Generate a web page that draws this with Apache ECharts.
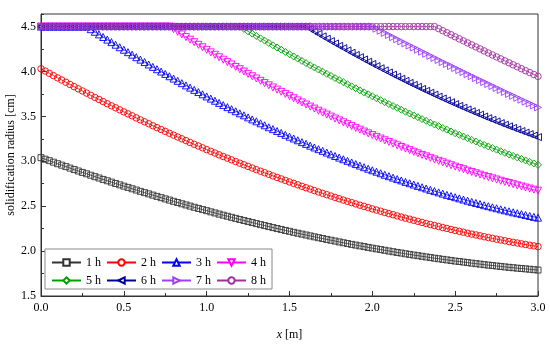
<!DOCTYPE html>
<html>
<head>
<meta charset="utf-8">
<script src="https://cdn.jsdelivr.net/npm/echarts@6/dist/echarts.min.js"></script>
<style>html,body{margin:0;padding:0;background:#fff}#c{width:550px;height:347px}</style>
</head>
<body>
<div id="c"></div>
<script>
const xs = [0,
0.025,0.05,0.075,0.1, 0.125,0.15,0.175,0.2, 0.225,0.25,0.275,0.3, 0.325,0.35,0.375,0.4, 0.425,0.45,0.475,0.5,
0.525,0.55,0.575,0.6, 0.625,0.65,0.675,0.7, 0.725,0.75,0.775,0.8, 0.825,0.85,0.875,0.9, 0.925,0.95,0.975,1.0,
1.025,1.05,1.075,1.1, 1.125,1.15,1.175,1.2, 1.225,1.25,1.275,1.3, 1.325,1.35,1.375,1.4, 1.425,1.45,1.475,1.5,
1.525,1.55,1.575,1.6, 1.625,1.65,1.675,1.7, 1.725,1.75,1.775,1.8, 1.825,1.85,1.875,1.9, 1.925,1.95,1.975,2.0,
2.025,2.05,2.075,2.1, 2.125,2.15,2.175,2.2, 2.225,2.25,2.275,2.3, 2.325,2.35,2.375,2.4, 2.425,2.45,2.475,2.5,
2.525,2.55,2.575,2.6, 2.625,2.65,2.675,2.7, 2.725,2.75,2.775,2.8, 2.825,2.85,2.875,2.9, 2.925,2.95,2.975,3.0];

const r1h = [3.040,
3.023,3.007,2.990,2.973, 2.957,2.941,2.924,2.908, 2.892,2.876,2.861,2.845, 2.829,2.814,2.798,2.783, 2.768,2.753,2.738,2.723,
2.709,2.694,2.680,2.665, 2.651,2.637,2.623,2.609, 2.595,2.581,2.568,2.554, 2.541,2.527,2.514,2.501, 2.488,2.475,2.462,2.450,
2.437,2.425,2.412,2.400, 2.388,2.376,2.364,2.352, 2.341,2.329,2.318,2.306, 2.295,2.284,2.273,2.262, 2.251,2.241,2.230,2.220,
2.209,2.199,2.189,2.179, 2.169,2.159,2.149,2.140, 2.130,2.121,2.112,2.102, 2.093,2.084,2.075,2.067, 2.058,2.050,2.041,2.033,
2.025,2.017,2.009,2.001, 1.993,1.985,1.978,1.970, 1.963,1.956,1.949,1.942, 1.935,1.928,1.921,1.915, 1.908,1.902,1.896,1.889,
1.884,1.878,1.872,1.866, 1.860,1.855,1.849,1.844, 1.839,1.834,1.829,1.824, 1.819,1.815,1.810,1.806, 1.802,1.798,1.793,1.789];

const r2h = [4.030,
4.005,3.980,3.954,3.929, 3.905,3.880,3.855,3.831, 3.807,3.783,3.759,3.735, 3.711,3.688,3.665,3.641, 3.618,3.596,3.573,3.550,
3.528,3.506,3.483,3.461, 3.440,3.418,3.396,3.375, 3.354,3.333,3.312,3.291, 3.270,3.250,3.230,3.209, 3.189,3.170,3.150,3.130,
3.111,3.092,3.072,3.053, 3.035,3.016,2.997,2.979, 2.961,2.943,2.925,2.907, 2.889,2.872,2.855,2.837, 2.820,2.804,2.787,2.770,
2.754,2.738,2.721,2.705, 2.690,2.674,2.658,2.643, 2.628,2.613,2.598,2.583, 2.568,2.554,2.540,2.525, 2.511,2.498,2.484,2.470,
2.457,2.444,2.430,2.417, 2.405,2.392,2.379,2.367, 2.355,2.343,2.331,2.319, 2.307,2.296,2.285,2.273, 2.262,2.252,2.241,2.230,
2.220,2.210,2.199,2.189, 2.180,2.170,2.160,2.151, 2.142,2.133,2.124,2.115, 2.106,2.098,2.090,2.081, 2.073,2.065,2.058,2.050];

const r3h = [
4.5,4.5,4.5,4.5,4.5,4.5,4.5,4.5,4.5,4.5,
4.5,4.5,
4.471,4.442,4.413,4.384, 4.355,4.327,4.298,4.270, 4.242,4.215,4.187,4.159, 4.132,4.105,4.078,4.051, 4.025,3.999,3.973,3.947,
3.921,3.896,3.870,3.845, 3.820,3.795,3.771,3.746, 3.722,3.698,3.674,3.650, 3.626,3.603,3.580,3.557, 3.534,3.512,3.489,3.466,
3.445,3.423,3.401,3.379, 3.358,3.337,3.316,3.295, 3.274,3.254,3.234,3.213, 3.194,3.174,3.154,3.135, 3.116,3.097,3.078,3.059,
3.041,3.023,3.005,2.987, 2.969,2.952,2.934,2.917, 2.900,2.884,2.867,2.850, 2.834,2.818,2.802,2.787, 2.771,2.756,2.741,2.726,
2.711,2.697,2.682,2.668, 2.654,2.640,2.626,2.613, 2.600,2.587,2.574,2.561, 2.548,2.536,2.524,2.511, 2.500,2.488,2.477,2.465,
2.454,2.443,2.432,2.422, 2.412,2.402,2.391,2.381, 2.372];

const r4h = [
4.5,4.5,4.5,4.5,4.5,4.5,4.5,4.5,4.5,4.5,
4.5,4.5,4.5,4.5,4.5,4.5,4.5,4.5,4.5,4.5,
4.5,4.5,4.5,4.5,4.5,4.5,4.5,4.5,4.5,4.5,
4.5,4.5,
4.471,4.441,4.412,4.383, 4.354,4.326,4.297,4.269, 4.241,4.213,4.186,4.158, 4.131,4.104,4.078,4.051, 4.025,3.999,3.973,3.947,
3.922,3.896,3.871,3.846, 3.822,3.798,3.773,3.749, 3.725,3.702,3.678,3.655, 3.632,3.609,3.587,3.564, 3.542,3.520,3.498,3.476,
3.455,3.434,3.413,3.392, 3.372,3.352,3.331,3.311, 3.292,3.272,3.253,3.234, 3.215,3.197,3.178,3.159, 3.142,3.124,3.106,3.088,
3.071,3.055,3.038,3.021, 3.005,2.989,2.973,2.956, 2.941,2.926,2.911,2.895, 2.881,2.866,2.852,2.838, 2.824,2.810,2.797,2.783,
2.770,2.758,2.745,2.732, 2.720,2.708,2.696,2.684, 2.673];

const r5h = [
4.5,4.5,4.5,4.5,4.5,4.5,4.5,4.5,4.5,4.5,
4.5,4.5,4.5,4.5,4.5,4.5,4.5,4.5,4.5,4.5,
4.5,4.5,4.5,4.5,4.5,4.5,4.5,4.5,4.5,4.5,
4.5,4.5,4.5,4.5,4.5,4.5,4.5,4.5,4.5,4.5,
4.5,4.5,4.5,4.5,4.5,4.5,4.5,4.5,4.5,
4.474,4.447,4.421,4.395, 4.369,4.344,4.318,4.292, 4.267,4.242,4.217,4.192, 4.167,4.143,4.118,4.093, 4.069,4.045,4.021,3.998,
3.974,3.951,3.927,3.904, 3.881,3.858,3.835,3.813, 3.790,3.768,3.746,3.724, 3.702,3.680,3.659,3.637, 3.616,3.595,3.574,3.552,
3.532,3.511,3.491,3.470, 3.450,3.430,3.410,3.391, 3.371,3.352,3.332,3.313, 3.294,3.275,3.257,3.238, 3.220,3.201,3.183,3.165,
3.147,3.130,3.112,3.094, 3.077,3.060,3.043,3.026, 3.009,2.993,2.976,2.960];

const r6h = [
4.5,4.5,4.5,4.5,4.5,4.5,4.5,4.5,4.5,4.5,
4.5,4.5,4.5,4.5,4.5,4.5,4.5,4.5,4.5,4.5,
4.5,4.5,4.5,4.5,4.5,4.5,4.5,4.5,4.5,4.5,
4.5,4.5,4.5,4.5,4.5,4.5,4.5,4.5,4.5,4.5,
4.5,4.5,4.5,4.5,4.5,4.5,4.5,4.5,4.5,4.5,
4.5,4.5,4.5,4.5,4.5,4.5,4.5,4.5,4.5,4.5,
4.5,4.5,4.5,4.5,4.5,
4.473,4.446,4.418,4.391, 4.365,4.338,4.312,4.286, 4.260,4.235,4.209,4.184, 4.159,4.134,4.109,4.084, 4.060,4.036,4.012,3.989,
3.965,3.942,3.919,3.896, 3.873,3.851,3.829,3.806, 3.785,3.763,3.742,3.720, 3.699,3.678,3.658,3.637, 3.617,3.597,3.577,3.557,
3.538,3.519,3.499,3.480, 3.462,3.444,3.425,3.407, 3.389,3.372,3.354,3.337, 3.320,3.303,3.286,3.269];

const r7h = [
4.5,4.5,4.5,4.5,4.5,4.5,4.5,4.5,4.5,4.5,
4.5,4.5,4.5,4.5,4.5,4.5,4.5,4.5,4.5,4.5,
4.5,4.5,4.5,4.5,4.5,4.5,4.5,4.5,4.5,4.5,
4.5,4.5,4.5,4.5,4.5,4.5,4.5,4.5,4.5,4.5,
4.5,4.5,4.5,4.5,4.5,4.5,4.5,4.5,4.5,4.5,
4.5,4.5,4.5,4.5,4.5,4.5,4.5,4.5,4.5,4.5,
4.5,4.5,4.5,4.5,4.5,4.5,4.5,4.5,4.5,4.5,
4.5,4.5,4.5,4.5,4.5,4.5,4.5,4.5,4.5,4.5,
4.5,
4.476,4.453,4.429,4.406, 4.382,4.359,4.335,4.312, 4.289,4.266,4.243,4.220, 4.197,4.174,4.151,4.128, 4.105,4.083,4.060,4.038,
4.015,3.993,3.970,3.948, 3.926,3.904,3.882,3.860, 3.838,3.816,3.794,3.772, 3.750,3.729,3.707,3.686, 3.664,3.643,3.621,3.600];

const r8h = [
4.5,4.5,4.5,4.5,4.5,4.5,4.5,4.5,4.5,4.5,
4.5,4.5,4.5,4.5,4.5,4.5,4.5,4.5,4.5,4.5,
4.5,4.5,4.5,4.5,4.5,4.5,4.5,4.5,4.5,4.5,
4.5,4.5,4.5,4.5,4.5,4.5,4.5,4.5,4.5,4.5,
4.5,4.5,4.5,4.5,4.5,4.5,4.5,4.5,4.5,4.5,
4.5,4.5,4.5,4.5,4.5,4.5,4.5,4.5,4.5,4.5,
4.5,4.5,4.5,4.5,4.5,4.5,4.5,4.5,4.5,4.5,
4.5,4.5,4.5,4.5,4.5,4.5,4.5,4.5,4.5,4.5,
4.5,4.5,4.5,4.5,4.5,4.5,4.5,4.5,4.5,4.5,
4.5,4.5,4.5,4.5,4.5,4.5,
4.477,4.454,4.431,4.409, 4.386,4.363,4.341,4.318, 4.296,4.273,4.251,4.229, 4.206,4.184,4.162,4.140, 4.118,4.096,4.074,4.053,
4.031,4.009,3.988,3.966, 3.945];

const seriesNames = ['1 h','2 h','3 h','4 h','5 h','6 h','7 h','8 h'];
const seriesValues = [r1h, r2h, r3h, r4h, r5h, r6h, r7h, r8h];
const colors = ['#333333','#ff0000','#0000ff','#ff00ff','#00a000','#000099','#a040ff','#a0309f'];
const symbols = ['rect','circle','triangle','triangle','diamond','triangle','triangle','circle'];
const symbolSizes = [6,6.5,7,7,7,7,7,6.5];
const symbolRotates = [0,0,0,180,0,90,-90,0];

const FONT = 'Liberation Serif';
const AX = '#333';

const series = seriesNames.map((name, k) => ({
  type: 'line',
  name: name,
  data: xs.map((x, i) => [x, seriesValues[k][i]]),
  symbol: symbols[k],
  symbolSize: symbolSizes[k],
  symbolRotate: symbolRotates[k],
  showAllSymbol: true,
  lineStyle: { color: colors[k], width: 0.8 },
  itemStyle: { color: 'rgba(255,255,255,0)', borderColor: colors[k], borderWidth: 0.9 },
  emphasis: { disabled: true },
  animation: false
}));

const chart = echarts.init(document.getElementById('c'), null, { renderer: 'canvas' });
chart.setOption({
  backgroundColor: '#fff',
  animation: false,
  grid: { left: 41, right: 12, top: 14, bottom: 51, show: true, borderColor: AX, borderWidth: 1,
    outerBoundsMode: 'none', containLabel: false },
  legend: {
    data: seriesNames,
    left: 45, top: 249,
    width: 224,
    orient: 'horizontal',
    itemWidth: 29, itemHeight: 8, itemGap: 5,
    padding: [7, 6, 2, 6],
    borderColor: '#888', borderWidth: 1,
    backgroundColor: '#fff',
    itemStyle: { color: '#fff' },
    textStyle: { fontFamily: FONT, fontSize: 12, color: '#000', lineHeight: 13 },
    selectedMode: false
  },
  xAxis: [{
    type: 'value', min: 0, max: 3, interval: 0.5,
    axisLine: { show: true, lineStyle: { color: AX, width: 1 } },
    axisTick: { show: true, inside: true, length: 5, lineStyle: { color: AX } },
    minorTick: { show: true, splitNumber: 2, length: 3, lineStyle: { color: AX } },
    splitLine: { show: false },
    axisLabel: { formatter: v => v.toFixed(1), fontFamily: FONT, fontSize: 12, color: '#000', margin: 6 },
    name: '{i|x} [m]', nameLocation: 'middle', nameGap: 33, nameMoveOverlap: false,
    nameTextStyle: { fontFamily: FONT, fontSize: 12, color: '#000',
      rich: { i: { fontStyle: 'italic', fontFamily: FONT, fontSize: 12, color: '#000' } } }
  }],
  yAxis: [{
    type: 'value', min: 1.5, max: 4.64, interval: 0.5,
    axisLine: { show: true, lineStyle: { color: AX, width: 1 } },
    axisTick: { show: true, inside: true, length: 5, lineStyle: { color: AX } },
    splitLine: { show: false },
    axisLabel: { formatter: v => (Math.abs(v * 2 - Math.round(v * 2)) < 1e-6 ? v.toFixed(1) : ''), showMaxLabel: false,
      fontFamily: FONT, fontSize: 12, color: '#000', margin: 5 },
    name: 'solidification radius [cm]', nameLocation: 'middle', nameGap: 24, nameRotate: 90, nameMoveOverlap: false,
    nameTextStyle: { fontFamily: FONT, fontSize: 12, color: '#000' }
  }, {
    type: 'value', min: 1.5, max: 4.64, interval: 0.25, position: 'left',
    axisLine: { show: false },
    axisTick: { show: true, inside: true, length: 3, lineStyle: { color: AX } },
    axisLabel: { show: false },
    splitLine: { show: false }
  }],
  series: series
});
</script>
</body>
</html>
